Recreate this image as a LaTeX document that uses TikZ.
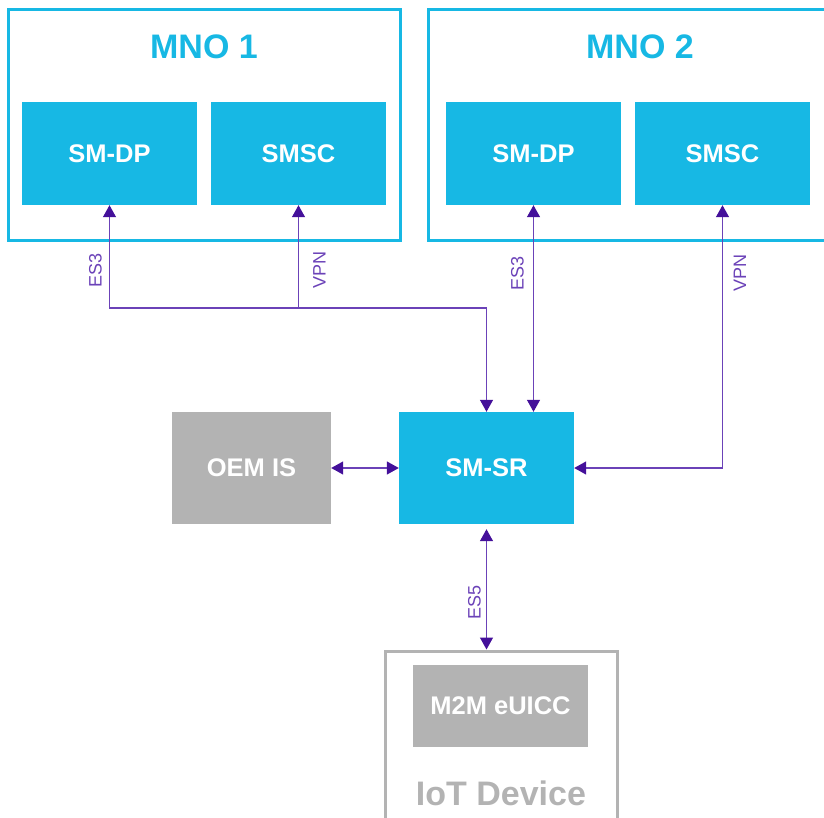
\documentclass[tikz,border=0pt]{standalone}
\usepackage{fontspec}
\setmainfont{Liberation Sans}
\usetikzlibrary{arrows.meta,positioning,calc}
\definecolor{mnoblue}{HTML}{17B8E4}
\definecolor{oemgray}{HTML}{B3B3B3}
\definecolor{tipviolet}{HTML}{44109A}
\definecolor{linkviolet}{HTML}{6B42B8}

\begin{document}
\begin{tikzpicture}[x=1pt,y=-1pt,
  frame/.style={draw=#1,line width=3pt,inner sep=0pt},
  title/.style={font=\bfseries\fontsize{34}{40}\selectfont,text=#1},
  entity/.style={fill=#1,text=white,inner sep=0pt,
    font=\bfseries\fontsize{25.5}{30}\selectfont},
  link/.style={linkviolet,line width=1.3pt,
    {Triangle[width=13pt,length=12pt,color=tipviolet]}-{Triangle[width=13pt,length=12pt,color=tipviolet]}},
  uplink/.style={linkviolet,line width=1.3pt,{Triangle[width=13pt,length=12pt,color=tipviolet]}-},
  lbl/.style={text=linkviolet,font=\fontsize{18}{20}\selectfont,rotate=90,inner sep=0pt}]
  \useasboundingbox (0,0) rectangle (824,817);

  % Operator frames
  \node[frame=mnoblue,minimum width=392pt,minimum height=231pt] (mnoA) at (204,124.5) {};
  \node[frame=mnoblue,minimum width=424pt,minimum height=231pt] (mnoB) at (640,124.5) {};
  \node[title=mnoblue] (mnoAtitle) at (204,47) {MNO 1};
  \node[title=mnoblue] (mnoBtitle) at (640,47) {MNO 2};

  % Operator entities
  \node[entity=mnoblue,minimum width=175pt,minimum height=103pt] (smdpA) at (109.5,153.5) {SM-DP};
  \node[entity=mnoblue,minimum width=175pt,minimum height=103pt] (smscA) at (298.5,153.5) {SMSC};
  \node[entity=mnoblue,minimum width=175pt,minimum height=103pt] (smdpB) at (533.5,153.5) {SM-DP};
  \node[entity=mnoblue,minimum width=175pt,minimum height=103pt] (smscB) at (722.5,153.5) {SMSC};

  % Middle row
  \node[entity=mnoblue,minimum width=175pt,minimum height=112pt] (smsr) at (486.5,468) {SM-SR};
  \node[entity=oemgray,minimum width=159pt,minimum height=112pt] (oem) at (251.5,468) {OEM IS};

  % Device
  \node[frame=oemgray,minimum width=232pt,minimum height=200pt] (iot) at (501,751) {};
  \node[entity=oemgray,minimum width=175pt,minimum height=82pt] (euicc) at (500.5,706) {M2M eUICC};
  \node[title=oemgray] (iottitle) at (501,793) {IoT Device};

  % Interfaces
  \coordinate (bendA) at (109.5,308);
  \coordinate (joinA) at (298.5,308);
  \draw[link] (smdpA.south) -- (bendA) -| (smsr.north);
  \draw[uplink] (smscA.south) -- (joinA);
  \draw[link] (smdpB.south) -- (smdpB.south |- smsr.north);
  \draw[link] (smsr.east) -| (smscB.south);
  \draw[link] (oem) -- (smsr);
  \draw[link,shorten <=5pt] (smsr.south) -- (smsr.south |- iot.north);

  % Interface labels
  \node[lbl] (es3A) at (95.5,270) {ES3};
  \node[lbl] (vpnA) at (319.5,270) {VPN};
  \node[lbl] (es3B) at (517.5,273) {ES3};
  \node[lbl] (vpnB) at (740,273) {VPN};
  \node[lbl] (es5) at (474.5,602) {ES5};
\end{tikzpicture}
\end{document}
